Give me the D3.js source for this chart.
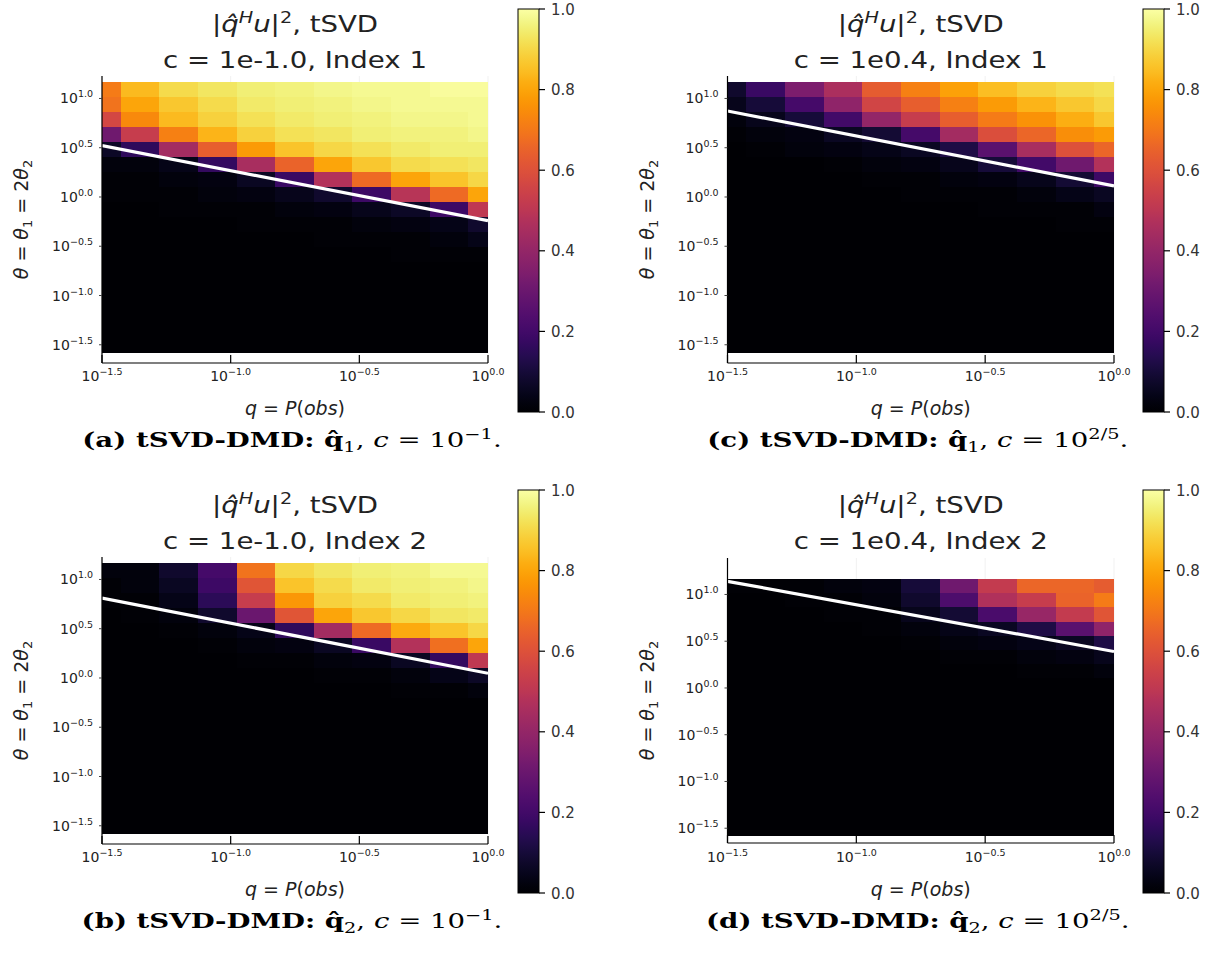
<!DOCTYPE html>
<html><head><meta charset="utf-8">
<script src="https://cdn.jsdelivr.net/npm/d3@7"></script>
<style>body{margin:0;background:#fff}svg{display:block}</style>
</head><body>
<svg id="fig" width="1210" height="961"></svg>
<script>
// ---------- data ----------
const qExp = [-1.5,-1.35,-1.2,-1.05,-0.9,-0.75,-0.6,-0.45,-0.3,-0.15,0.0];
const thetaExp = [-1.5,-1.348,-1.196,-1.044,-0.892,-0.74,-0.588,-0.436,-0.284,-0.132,0.02,0.172,0.324,0.476,0.628,0.78,0.932,1.084];
const xTickExp = [-1.5,-1.0,-0.5,0.0];
const yTickExp = [-1.5,-1.0,-0.5,0.0,0.5,1.0];
const cbTicks = [0.0,0.2,0.4,0.6,0.8,1.0];

// rows listed from top (largest theta) to bottom
const valsA = [
 [0.71,0.84,0.91,0.93,0.95,0.96,0.97,0.98,0.98,0.99,0.99],
 [0.69,0.80,0.87,0.91,0.94,0.95,0.96,0.97,0.98,0.98,0.98],
 [0.57,0.74,0.84,0.89,0.92,0.94,0.95,0.96,0.97,0.97,0.98],
 [0.31,0.53,0.72,0.83,0.89,0.92,0.93,0.95,0.96,0.96,0.97],
 [0.07,0.16,0.44,0.64,0.78,0.86,0.90,0.92,0.94,0.95,0.95],
 [0.02,0.02,0.04,0.17,0.45,0.65,0.80,0.87,0.91,0.92,0.93],
 [0.01,0.01,0.02,0.03,0.06,0.18,0.48,0.67,0.80,0.86,0.90],
 [0.01,0.01,0.01,0.02,0.03,0.05,0.08,0.19,0.49,0.67,0.80],
 [0.00,0.00,0.01,0.01,0.01,0.02,0.03,0.05,0.07,0.19,0.51],
 [0.00,0.00,0.00,0.00,0.01,0.01,0.01,0.02,0.03,0.04,0.08],
 [0.00,0.00,0.00,0.00,0.00,0.00,0.01,0.01,0.01,0.02,0.04],
 [0.00,0.00,0.00,0.00,0.00,0.00,0.00,0.00,0.01,0.01,0.01],
 [0,0,0,0,0,0,0,0,0,0,0],
 [0,0,0,0,0,0,0,0,0,0,0],
 [0,0,0,0,0,0,0,0,0,0,0],
 [0,0,0,0,0,0,0,0,0,0,0],
 [0,0,0,0,0,0,0,0,0,0,0],
 [0,0,0,0,0,0,0,0,0,0,0]
];
const valsB = [
 [0.02,0.02,0.08,0.21,0.69,0.90,0.93,0.95,0.96,0.98,0.98],
 [0.01,0.02,0.06,0.19,0.61,0.86,0.91,0.94,0.95,0.96,0.97],
 [0.01,0.01,0.04,0.15,0.53,0.77,0.89,0.91,0.94,0.95,0.96],
 [0.00,0.01,0.02,0.08,0.30,0.61,0.80,0.87,0.90,0.93,0.94],
 [0.00,0.00,0.01,0.02,0.04,0.16,0.44,0.67,0.81,0.86,0.90],
 [0.00,0.00,0.00,0.01,0.02,0.03,0.06,0.18,0.48,0.68,0.80],
 [0.00,0.00,0.00,0.00,0.01,0.01,0.02,0.03,0.06,0.17,0.51],
 [0.00,0.00,0.00,0.00,0.00,0.00,0.01,0.01,0.02,0.04,0.07],
 [0.00,0.00,0.00,0.00,0.00,0.00,0.00,0.00,0.01,0.01,0.02],
 [0,0,0,0,0,0,0,0,0,0,0],
 [0,0,0,0,0,0,0,0,0,0,0],
 [0,0,0,0,0,0,0,0,0,0,0],
 [0,0,0,0,0,0,0,0,0,0,0],
 [0,0,0,0,0,0,0,0,0,0,0],
 [0,0,0,0,0,0,0,0,0,0,0],
 [0,0,0,0,0,0,0,0,0,0,0],
 [0,0,0,0,0,0,0,0,0,0,0],
 [0,0,0,0,0,0,0,0,0,0,0]
];
const valsC = [
 [0.08,0.18,0.34,0.46,0.63,0.72,0.79,0.85,0.89,0.91,0.92],
 [0.05,0.10,0.21,0.39,0.56,0.64,0.72,0.78,0.83,0.87,0.90],
 [0.02,0.05,0.10,0.20,0.40,0.53,0.64,0.71,0.76,0.82,0.87],
 [0.01,0.02,0.03,0.06,0.09,0.21,0.44,0.59,0.66,0.75,0.78],
 [0.00,0.01,0.02,0.03,0.04,0.06,0.12,0.26,0.45,0.60,0.66],
 [0.00,0.00,0.00,0.01,0.02,0.03,0.05,0.10,0.20,0.31,0.48],
 [0.00,0.00,0.00,0.00,0.01,0.01,0.02,0.03,0.05,0.09,0.19],
 [0.00,0.00,0.00,0.00,0.00,0.01,0.01,0.01,0.02,0.04,0.06],
 [0.00,0.00,0.00,0.00,0.00,0.00,0.00,0.01,0.01,0.01,0.03],
 [0.00,0.00,0.00,0.00,0.00,0.00,0.00,0.00,0.00,0.01,0.01],
 [0,0,0,0,0,0,0,0,0,0,0],
 [0,0,0,0,0,0,0,0,0,0,0],
 [0,0,0,0,0,0,0,0,0,0,0],
 [0,0,0,0,0,0,0,0,0,0,0],
 [0,0,0,0,0,0,0,0,0,0,0],
 [0,0,0,0,0,0,0,0,0,0,0],
 [0,0,0,0,0,0,0,0,0,0,0],
 [0,0,0,0,0,0,0,0,0,0,0]
];
const valsD = [
 [0.01,0.01,0.01,0.02,0.03,0.10,0.31,0.52,0.66,0.66,0.63],
 [0.00,0.00,0.01,0.01,0.02,0.08,0.23,0.47,0.53,0.65,0.71],
 [0.00,0.00,0.00,0.01,0.01,0.05,0.09,0.22,0.41,0.52,0.61],
 [0.00,0.00,0.00,0.00,0.01,0.02,0.04,0.06,0.12,0.26,0.39],
 [0.00,0.00,0.00,0.00,0.00,0.01,0.02,0.03,0.04,0.06,0.12],
 [0.00,0.00,0.00,0.00,0.00,0.00,0.01,0.01,0.02,0.03,0.05],
 [0.00,0.00,0.00,0.00,0.00,0.00,0.00,0.00,0.01,0.01,0.02],
 [0,0,0,0,0,0,0,0,0,0,0],
 [0,0,0,0,0,0,0,0,0,0,0],
 [0,0,0,0,0,0,0,0,0,0,0],
 [0,0,0,0,0,0,0,0,0,0,0],
 [0,0,0,0,0,0,0,0,0,0,0],
 [0,0,0,0,0,0,0,0,0,0,0],
 [0,0,0,0,0,0,0,0,0,0,0],
 [0,0,0,0,0,0,0,0,0,0,0],
 [0,0,0,0,0,0,0,0,0,0,0],
 [0,0,0,0,0,0,0,0,0,0,0],
 [0,0,0,0,0,0,0,0,0,0,0]
];
// white threshold line: log10(theta) at q = 10^-1.5 and q = 10^0
const lineQExp = [-1.5, 0.0];
const lineA = [0.521, -0.241];
const lineB = [0.810, 0.048];
const lineC = [0.873, 0.112];
const lineD = [1.140, 0.390];
// y-axis limits (log10) per panel
const yLimABC = [-1.685, 1.228];
const yLimD = [-1.658, 1.39];

// ---------- layout ----------
const L = {x0:102, x1:488}, R = {x0:727.5, x1:1114};
const T = {yTop:76, yBot:363, cbTop:9, cbBot:412, t1:31.7, t2:68.3, xtl:381, xl:415, cap:447};
const dy = 481;
const B = {yTop:557, yBot:844, cbTop:490, cbBot:893, t1:31.7+dy, t2:68.3+dy, xtl:381+dy, xl:415+dy, cap:447+dy};

const panels = [
 {vals:valsA, line:lineA, ylim:yLimABC, col:L, row:T, cbX:518, cname:'1e-1.0', idx:'1', letter:'a', sub:'1', cexp:'\u22121'},
 {vals:valsC, line:lineC, ylim:yLimABC, col:R, row:T, cbX:1143, cname:'1e0.4', idx:'1', letter:'c', sub:'1', cexp:'2/5'},
 {vals:valsB, line:lineB, ylim:yLimABC, col:L, row:B, cbX:518, cname:'1e-1.0', idx:'2', letter:'b', sub:'2', cexp:'\u22121'},
 {vals:valsD, line:lineD, ylim:yLimD, col:R, row:{...B, yTop:558, yBot:843}, cbX:1143, cname:'1e0.4', idx:'2', letter:'d', sub:'2', cexp:'2/5'}
];

const svg = d3.select('#fig');
const defs = svg.append('defs');
const color = d3.scaleSequential(d3.interpolateInferno).domain([0,1]);
const fmtE = e => d3.format('.1f')(e).replace('-', '\u2212');
const SANS = 'DejaVu Sans';

// colorbar gradient
const grad = defs.append('linearGradient').attr('id','cbgrad').attr('x1',0).attr('y1',1).attr('x2',0).attr('y2',0);
d3.range(0,1.0001,0.02).forEach(t => grad.append('stop').attr('offset',t).attr('stop-color',color(t)));

// midpoints in log space -> cell edges
function edges(exps){
  const e = [];
  for (let i=0;i<exps.length;i++){
    const lo = i===0 ? exps[0]-(exps[1]-exps[0])/2 : (exps[i-1]+exps[i])/2;
    const hi = i===exps.length-1 ? exps[i]+(exps[i]-exps[i-1])/2 : (exps[i]+exps[i+1])/2;
    e.push([lo,hi]);
  }
  return e;
}
const xEdges = edges(qExp), yEdges = edges(thetaExp);

panels.forEach((p,pi) => {
  const {col,row} = p;
  const x = d3.scaleLog().domain([Math.pow(10,-1.5),1]).range([col.x0,col.x1]);
  const y = d3.scaleLog().domain([Math.pow(10,p.ylim[0]),Math.pow(10,p.ylim[1])]).range([row.yBot,row.yTop]);
  const g = svg.append('g');
  const cx = (col.x0+col.x1)/2;

  // grid (only visible where no heatmap)
  g.selectAll('.gx').data(xTickExp).join('line')
    .attr('x1',d=>x(Math.pow(10,d))).attr('x2',d=>x(Math.pow(10,d)))
    .attr('y1',row.yTop).attr('y2',row.yBot).attr('stroke','#000').attr('stroke-opacity',0.1).attr('stroke-width',0.6);

  // heatmap
  const cid = 'clip'+pi;
  defs.append('clipPath').attr('id',cid).append('rect')
    .attr('x',col.x0).attr('y',row.yTop).attr('width',col.x1-col.x0).attr('height',row.yBot-row.yTop);
  const hm = g.append('g').attr('clip-path',`url(#${cid})`);
  const cells = [];
  const nR = thetaExp.length;
  p.vals.forEach((r,ri) => r.forEach((v,ci) => cells.push({v, xe:xEdges[ci], ye:yEdges[nR-1-ri]})));
  const hmG = hm.append('g').attr('shape-rendering','crispEdges');
  hmG.selectAll('rect').data(cells).join('rect')
    .attr('x',d=>Math.floor(x(Math.pow(10,d.xe[0]))))
    .attr('width',d=>Math.ceil(x(Math.pow(10,d.xe[1])))-Math.floor(x(Math.pow(10,d.xe[0]))))
    .attr('y',d=>Math.floor(y(Math.pow(10,d.ye[1]))))
    .attr('height',d=>Math.ceil(y(Math.pow(10,d.ye[0])))-Math.floor(y(Math.pow(10,d.ye[1]))))
    .attr('fill',d=>color(d.v));

  // threshold line
  const lineData = lineQExp.map((q,i)=>[Math.pow(10,q),Math.pow(10,p.line[i])]);
  hm.append('path').datum(lineData)
    .attr('d',d3.line().x(d=>x(d[0])).y(d=>y(d[1])))
    .attr('stroke','#fff').attr('stroke-width',3.2).attr('fill','none');

  // spines
  g.append('line').attr('x1',col.x0).attr('x2',col.x0).attr('y1',row.yTop).attr('y2',row.yBot).attr('stroke','#000').attr('stroke-width',1.2);
  g.append('line').attr('x1',col.x0).attr('x2',col.x1).attr('y1',row.yBot).attr('y2',row.yBot).attr('stroke','#000').attr('stroke-width',1.2);
  // x ticks (inward)
  g.selectAll('.xt').data(xTickExp).join('line')
    .attr('x1',d=>x(Math.pow(10,d))).attr('x2',d=>x(Math.pow(10,d)))
    .attr('y1',row.yBot).attr('y2',row.yBot-8).attr('stroke','#000').attr('stroke-width',1.2);
  // y ticks (short, outward)
  g.selectAll('.yt').data(yTickExp).join('line')
    .attr('y1',d=>y(Math.pow(10,d))).attr('y2',d=>y(Math.pow(10,d)))
    .attr('x1',col.x0-3).attr('x2',col.x0).attr('stroke','#444').attr('stroke-width',1);

  // x tick labels
  xTickExp.forEach(e => {
    const t = g.append('text').attr('x',x(Math.pow(10,e))).attr('y',row.xtl)
      .attr('text-anchor','middle').attr('font-family',SANS).attr('font-size',14).attr('fill','#222');
    t.append('tspan').text('10');
    t.append('tspan').attr('dy',-6).attr('font-size',9.5).text(fmtE(e));
  });
  // y tick labels
  yTickExp.forEach(e => {
    const t = g.append('text').attr('x',col.x0-9).attr('y',y(Math.pow(10,e))+5)
      .attr('text-anchor','end').attr('font-family',SANS).attr('font-size',14).attr('fill','#222');
    t.append('tspan').text('10');
    t.append('tspan').attr('dy',-6).attr('font-size',9.5).text(fmtE(e));
  });

  // x label
  const xl = g.append('text').attr('x',cx).attr('y',row.xl).attr('text-anchor','middle')
    .attr('font-family',SANS).attr('font-size',19).attr('fill','#222');
  xl.append('tspan').attr('font-style','italic').text('q');
  xl.append('tspan').text(' = ');
  xl.append('tspan').attr('font-style','italic').text('P');
  xl.append('tspan').text('(');
  xl.append('tspan').attr('font-style','italic').text('obs');
  xl.append('tspan').text(')');

  // y label
  const yl = g.append('text').attr('transform',`translate(${col.x0-74},${(row.yTop+row.yBot)/2}) rotate(-90)`)
    .attr('text-anchor','middle').attr('font-family',SANS).attr('font-size',19).attr('fill','#222');
  yl.append('tspan').attr('font-style','italic').text('\u03b8');
  yl.append('tspan').text(' = ');
  yl.append('tspan').attr('font-style','italic').text('\u03b8');
  yl.append('tspan').attr('font-size',13).attr('dy',4).text('1');
  yl.append('tspan').attr('dy',-4).text(' = 2');
  yl.append('tspan').attr('font-style','italic').text('\u03b8');
  yl.append('tspan').attr('font-size',13).attr('dy',4).text('2');

  // titles
  const tg1 = g.append('g').attr('transform',`translate(${cx},${row.t1}) scale(1.2,1)`);
  const t1 = tg1.append('text').attr('text-anchor','middle').attr('font-family',SANS).attr('font-size',23).attr('fill','#222');
  t1.append('tspan').text('|');
  t1.append('tspan').attr('font-style','italic').text('q\u0302');
  t1.append('tspan').attr('font-style','italic').attr('font-size',16).attr('dy',-9).text('H');
  t1.append('tspan').attr('font-style','italic').attr('dy',9).text('u');
  t1.append('tspan').text('|');
  t1.append('tspan').attr('font-size',16).attr('dy',-9).text('2');
  t1.append('tspan').attr('dy',9).text(', tSVD');
  const tg2 = g.append('g').attr('transform',`translate(${cx},${row.t2}) scale(1.2,1)`);
  tg2.append('text').attr('text-anchor','middle').attr('font-family',SANS).attr('font-size',23).attr('fill','#222')
    .text(`c = ${p.cname}, Index ${p.idx}`);

  // colorbar
  const cb = d3.scaleLinear().domain([0,1]).range([row.cbBot,row.cbTop]);
  g.append('rect').attr('x',p.cbX).attr('y',row.cbTop).attr('width',21).attr('height',row.cbBot-row.cbTop)
    .attr('fill','url(#cbgrad)').attr('stroke','#000').attr('stroke-width',1);
  g.selectAll('.cbt').data(cbTicks).join('line')
    .attr('x1',p.cbX+21).attr('x2',p.cbX+27).attr('y1',d=>cb(d)).attr('y2',d=>cb(d)).attr('stroke','#000').attr('stroke-width',1.2);
  g.selectAll('.cbl').data(cbTicks).join('text')
    .attr('x',p.cbX+33).attr('y',d=>cb(d)+5.5).attr('font-family',SANS).attr('font-size',15).attr('fill','#333')
    .text(d=>d3.format('.1f')(d));

  // caption
  const cg = g.append('g').attr('transform',`translate(${cx-3},${row.cap}) scale(1.38,1)`);
  const ct = cg.append('text').attr('text-anchor','middle').attr('font-family','DejaVu Serif').attr('font-size',20).attr('fill','#000');
  ct.append('tspan').attr('font-weight','bold').text(`(${p.letter}) tSVD-DMD: `);
  ct.append('tspan').attr('font-weight','bold').text('q\u0302');
  ct.append('tspan').attr('font-size',14).attr('dy',5).text(p.sub);
  ct.append('tspan').attr('dy',-5).text(', ');
  ct.append('tspan').attr('font-style','italic').text('c');
  ct.append('tspan').text(' = 10');
  ct.append('tspan').attr('font-size',14).attr('dy',-8).text(p.cexp);
  ct.append('tspan').attr('dy',8).text('.');
});
</script>
</body></html>
